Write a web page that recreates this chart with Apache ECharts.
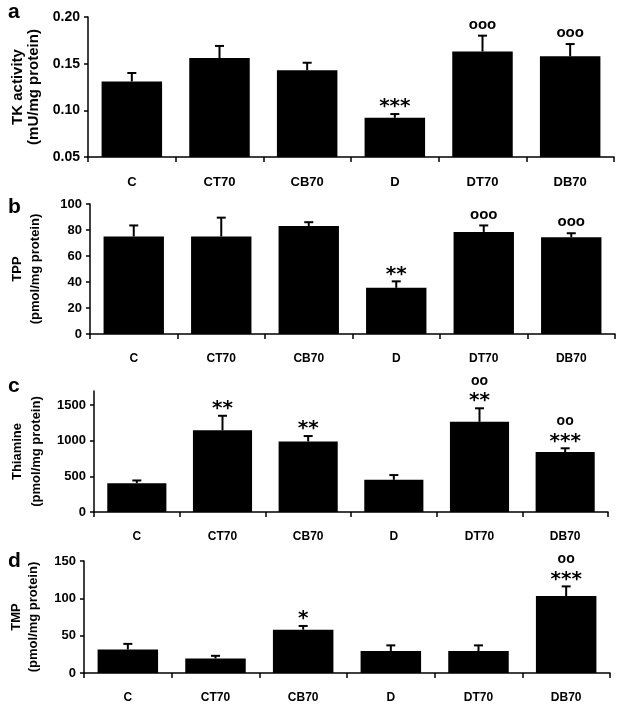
<!DOCTYPE html>
<html><head><meta charset="utf-8">
<script src="https://cdn.jsdelivr.net/npm/echarts@6/dist/echarts.min.js"></script>
<style>html,body{margin:0;padding:0;background:#fff}#c{width:619px;height:708px}</style>
</head><body><div id="c"></div>
<script>
// ---- data ----
const categories = ['C', 'CT70', 'CB70', 'D', 'DT70', 'DB70'];

const tkMean  = [0.131, 0.156, 0.143, 0.092, 0.163, 0.158];
const tkUpper = [0.140, 0.169, 0.151, 0.096, 0.180, 0.171];
const tkStars   = ['', '', '', '***', '', ''];
const tkCircles = ['', '', '', '', 'ooo', 'ooo'];
const tkTicks = [0.05, 0.10, 0.15, 0.20];

const tppMean  = [75, 75, 83, 35.5, 78.5, 74.5];
const tppUpper = [83.5, 89.5, 86, 40.5, 83.5, 77.5];
const tppStars   = ['', '', '', '**', '', ''];
const tppCircles = ['', '', '', '', 'ooo', 'ooo'];
const tppTicks = [0, 20, 40, 60, 80, 100];

const thMean  = [405, 1148, 990, 452, 1267, 843];
const thUpper = [443, 1352, 1067, 519, 1457, 895];
const thStars   = ['', '**', '**', '', '**', '***'];
const thCircles = ['', '', '', '', 'oo', 'oo'];
const thTicks = [0, 500, 1000, 1500];

const tmpMean  = [31.5, 19.5, 58, 29.5, 29.5, 103];
const tmpUpper = [39, 23, 63, 37, 37, 116];
const tmpStars   = ['', '', '*', '', '', '***'];
const tmpCircles = ['', '', '', '', '', 'oo'];
const tmpTicks = [0, 50, 100, 150];

const panelLetters = ['a', 'b', 'c', 'd'];
const yNames = ['TK activity\n(mU/mg protein)', 'TPP\n(pmol/mg protein)', 'Thiamine\n(pmol/mg protein)', 'TMP\n(pmol/mg protein)'];

// ---- chart ----
const FF = 'Liberation Sans, Arial, sans-serif';
const panels = [
  {mean: tkMean, upper: tkUpper, stars: tkStars, circles: tkCircles, ticks: tkTicks, min: 0.05, max: 0.20, dec: 2,
   grid: {left: 88, top: 17, right: 5, height: 140}, nameSize: 15, nameLH: 16, nameGap: 44, tickSize: 14, catSize: 13, circSize: 15, letterY: 12},
  {mean: tppMean, upper: tppUpper, stars: tppStars, circles: tppCircles, ticks: tppTicks, min: 0, max: 100, dec: 0,
   grid: {left: 86, top: 204, right: 4, height: 130}, nameSize: 13, nameLH: 18, nameGap: 46, tickSize: 13, catSize: 12, circSize: 15, letterY: 207},
  {mean: thMean, upper: thUpper, stars: thStars, circles: thCircles, ticks: thTicks, min: 0, max: 1700, dec: 0,
   grid: {left: 85, top: 391, right: 11, height: 121}, nameSize: 13, nameLH: 19, nameGap: 48, tickSize: 13, catSize: 12, circSize: 14, letterY: 386},
  {mean: tmpMean, upper: tmpUpper, stars: tmpStars, circles: tmpCircles, ticks: tmpTicks, min: 0, max: 150, dec: 0,
   grid: {left: 82, top: 561, right: 9, height: 112}, nameSize: 13, nameLH: 17, nameGap: 42, tickSize: 13, catSize: 12, circSize: 14, letterY: 561}
];

const grid = [], xAxis = [], yAxis = [], series = [], graphic = [];
panels.forEach((p, k) => {
  grid.push(p.grid);
  xAxis.push({
    type: 'category', gridIndex: k, data: categories,
    axisLine: {lineStyle: {color: '#000', width: 1.5}},
    axisTick: {show: true, length: 5, lineStyle: {color: '#000', width: 1.5}},
    axisLabel: {color: '#000', fontWeight: 'bold', fontSize: p.catSize, fontFamily: FF, margin: 19}
  });
  yAxis.push({
    type: 'value', gridIndex: k, min: p.min, max: p.max,
    name: yNames[k], nameLocation: 'middle', nameGap: p.nameGap, nameRotate: 90,
    nameTextStyle: {color: '#000', fontWeight: 'bold', fontSize: p.nameSize, fontFamily: FF, lineHeight: p.nameLH},
    splitLine: {show: false},
    axisLine: {show: true, lineStyle: {color: '#000', width: 1.5}},
    axisTick: {show: true, length: 4, lineStyle: {color: '#000', width: 1.5}, customValues: p.ticks},
    axisLabel: {color: '#000', fontWeight: 'bold', fontSize: p.tickSize, fontFamily: FF, margin: 8,
      customValues: p.ticks, formatter: v => Number(v).toFixed(p.dec)}
  });
  series.push({
    type: 'bar', xAxisIndex: k, yAxisIndex: k, data: p.mean,
    barCategoryGap: '31%', itemStyle: {color: '#000'}, silent: true, clip: true
  });
  series.push({
    type: 'custom', xAxisIndex: k, yAxisIndex: k, z: 5, silent: true, clip: false,
    data: p.upper.map((u, i) => [i, u, p.mean[i]]),
    renderItem: (params, api) => {
      const i = api.value(0);
      const top = api.coord([i, api.value(1)]);
      const base = api.coord([i, api.value(2)]);
      const ch = [
        {type: 'line', shape: {x1: top[0], y1: base[1], x2: top[0], y2: top[1]}, style: {stroke: '#000', lineWidth: 2}},
        {type: 'line', shape: {x1: top[0] - 4.5, y1: top[1], x2: top[0] + 4.5, y2: top[1]}, style: {stroke: '#000', lineWidth: 2}}
      ];
      const s = p.stars[i], c = p.circles[i];
      if (s) {
        ch.push({type: 'text', x: top[0], y: top[1] - 7,
          style: {text: s, font: 'bold 20px DejaVu Sans', fill: '#000', align: 'center', verticalAlign: 'middle'}});
      }
      if (c) {
        ch.push({type: 'text', x: top[0], y: top[1] - (s ? 27.5 : 11),
          style: {text: c, font: 'bold ' + p.circSize + 'px Liberation Sans', fill: '#000', align: 'center', verticalAlign: 'middle'}});
      }
      return {type: 'group', children: ch};
    }
  });
  graphic.push({type: 'text', x: 8, y: p.letterY,
    style: {text: panelLetters[k], font: 'bold 21px Liberation Sans', fill: '#000', verticalAlign: 'middle'}});
});

const chart = echarts.init(document.getElementById('c'), null, {renderer: 'canvas'});
chart.setOption({animation: false, backgroundColor: '#fff', grid, xAxis, yAxis, series, graphic});
</script>
</body></html>
